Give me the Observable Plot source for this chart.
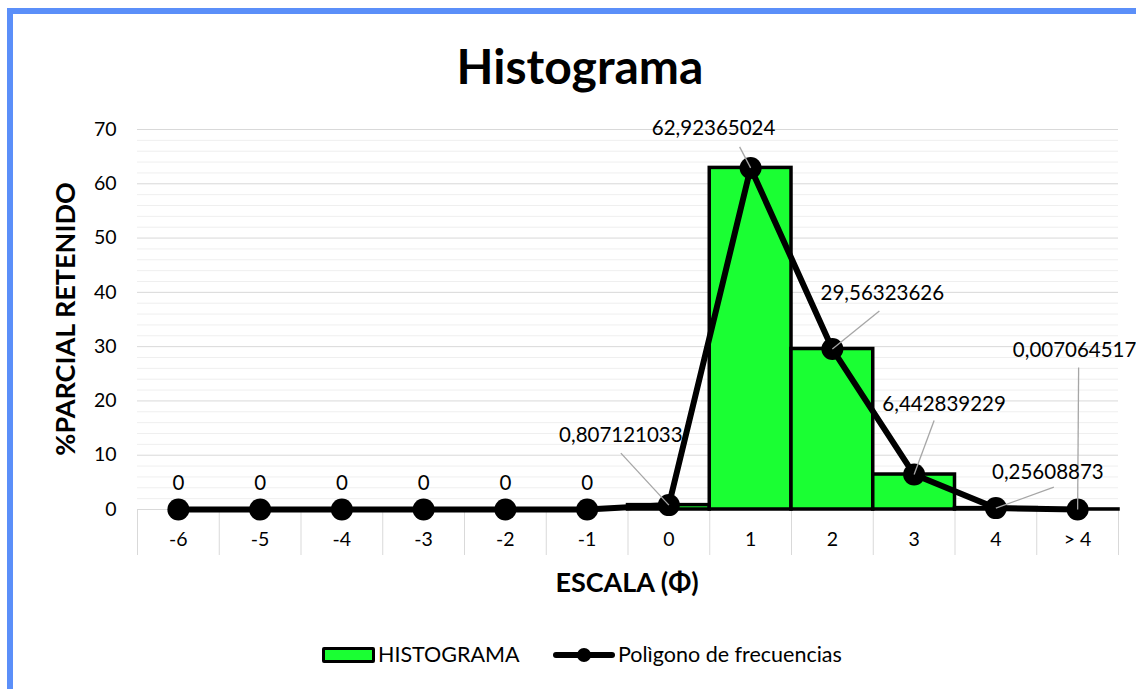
<!DOCTYPE html>
<html><head><meta charset="utf-8">
<script src="https://cdn.jsdelivr.net/npm/d3@7"></script>
<script src="https://cdn.jsdelivr.net/npm/@observablehq/plot@0.6"></script>
<style>
html,body{margin:0;padding:0;background:#fff;overflow:hidden;}
#wrap{position:relative;width:1136px;height:689px;overflow:hidden;font-family:Lato,"Open Sans",sans-serif;color:#000;}
#frame{position:absolute;left:7px;top:8px;width:1300px;height:900px;border-top:6px solid #5B8FF9;border-left:6px solid #5B8FF9;box-sizing:border-box;}
#chart{position:absolute;left:0;top:0;}
#title{position:absolute;left:0;top:37px;width:1160px;text-align:center;font-weight:bold;font-size:48px;line-height:58px;}
#xtitle{position:absolute;left:0;top:565px;width:1254px;text-align:center;font-weight:bold;font-size:27px;line-height:34px;}
#ytitle{position:absolute;left:65px;top:319px;width:400px;margin-left:-200px;margin-top:-17px;text-align:center;font-weight:bold;font-size:27px;line-height:34px;transform:rotate(-90deg);}
#legend{position:absolute;left:0;top:642px;width:1136px;height:26px;font-size:21.5px;}
.sw{position:absolute;}
</style></head>
<body>
<div id="wrap">
  <div id="frame"></div>
  <div id="chart"></div>
  <div id="title">Histograma</div>
  <div id="xtitle">ESCALA (Φ)</div>
  <div id="ytitle">%PARCIAL RETENIDO</div>
  <div id="legend"></div>
</div>
<script>
// ---- data ----
const categories = ["-6","-5","-4","-3","-2","-1","0","1","2","3","4","> 4"];
const percentRetained = [0,0,0,0,0,0,0.807121033,62.92365024,29.56323626,6.442839229,0.25608873,0.007064517];
const valueLabels = ["0","0","0","0","0","0","0,807121033","62,92365024","29,56323626","6,442839229","0,25608873","0,007064517"];
const yMajorTicks = [0,10,20,30,40,50,60,70];
const yMinorTicks = [2,4,6,8,12,14,16,18,22,24,26,28,32,34,36,38,42,44,46,48,52,54,56,58,62,64,66,68];
const seriesNames = ["HISTOGRAMA","Polìgono de frecuencias"];

// ---- label layout (pixel offsets from each point: text centre, leader start) ----
const labelLayout = [
  {dx:0,dy:-26},{dx:0,dy:-26},{dx:0,dy:-26},{dx:0,dy:-26},{dx:0,dy:-26},{dx:0,dy:-26},
  {dx:-48,dy:-70,lx:-48,ly:-52},
  {dx:-37,dy:-39,lx:-11,ly:-21},
  {dx:50,dy:-56,lx:47,ly:-38},
  {dx:30,dy:-70,lx:20,ly:-54},
  {dx:52,dy:-36,lx:58,ly:-21},
  {dx:-3,dy:-159,lx:1,ly:-142}
];

const W = 1136, H = 620, ML = 137, MR = 18, MT = 129, MB = 111;
const pxX = (W - ML - MR) / categories.length;
const pxY = (H - MT - MB) / 70;

const idx = categories.map((_, i) => i);
const bars = idx.filter(i => percentRetained[i] > 0);
const bounds = d3.range(categories.length + 1).map(i => i - 0.5);
const leaders = idx.filter(i => labelLayout[i].lx !== undefined);

const green = "#1AFF33";

const marks = [
  Plot.ruleY(yMinorTicks, {stroke: "#efefef", strokeWidth: 1}),
  Plot.ruleY(yMajorTicks.filter(d => d > 0), {stroke: "#d9d9d9", strokeWidth: 1}),
  Plot.ruleY([0], {stroke: "#d9d9d9", strokeWidth: 1}),
  Plot.ruleX(bounds, {y1: 0, y2: 0, insetBottom: -46, stroke: "#d9d9d9", strokeWidth: 1}),
  // tick labels
  Plot.text(yMajorTicks, {y: d => d, text: d => String(d), frameAnchor: "left", textAnchor: "end", dx: -21, fontSize: 19.5}),
  Plot.text(idx, {x: d => d, y: 0, text: d => categories[d], dy: 30, fontSize: 19.5}),
  // bars
  Plot.rectY(bars, {x1: i => i - 0.5, x2: i => i + 0.5, y1: 0, y2: i => percentRetained[i], fill: green, stroke: "#000", strokeWidth: 3.5}),
  // polygon
  Plot.line(idx, {x: i => i, y: i => percentRetained[i], stroke: "#000", strokeWidth: 6, strokeLinejoin: "round"}),
  Plot.dot(idx, {x: i => i, y: i => percentRetained[i], r: 11, fill: "#000"}),
  // leader lines
  Plot.link(leaders, {
    x1: i => i + labelLayout[i].lx / pxX, y1: i => percentRetained[i] - labelLayout[i].ly / pxY,
    x2: i => i, y2: i => percentRetained[i],
    stroke: "#a6a6a6", strokeWidth: 1.3
  }),
  // value labels
  ...idx.map(i => Plot.text([i], {x: d => d, y: d => percentRetained[d], text: d => valueLabels[d], dx: labelLayout[i].dx, dy: labelLayout[i].dy, fontSize: 20.5}))
];

const chart = Plot.plot({
  width: W, height: H,
  marginLeft: ML, marginRight: MR, marginTop: MT, marginBottom: MB,
  x: {type: "linear", domain: [-0.5, categories.length - 0.5], axis: null},
  y: {domain: [0, 70], axis: null},
  style: {fontFamily: "Lato, 'Open Sans', sans-serif", fontSize: "19px", color: "#000", background: "transparent", overflow: "visible"},
  marks
});
document.getElementById("chart").appendChild(chart);

// ---- legend ----
const lg = document.getElementById("legend");
lg.innerHTML = `
  <div class="sw" style="left:322px;top:5px;width:47px;height:10px;background:${green};border:3px solid #000;border-radius:2px;"></div>
  <div class="sw" style="left:378px;top:-1px;line-height:26px;">${seriesNames[0]}</div>
  <div class="sw" style="left:553px;top:10px;width:62px;height:6px;background:#000;border-radius:3px;"></div>
  <div class="sw" style="left:577px;top:6px;width:14px;height:14px;background:#000;border-radius:7px;"></div>
  <div class="sw" style="left:618px;top:-1px;line-height:26px;">${seriesNames[1]}</div>`;
</script>
</body></html>
